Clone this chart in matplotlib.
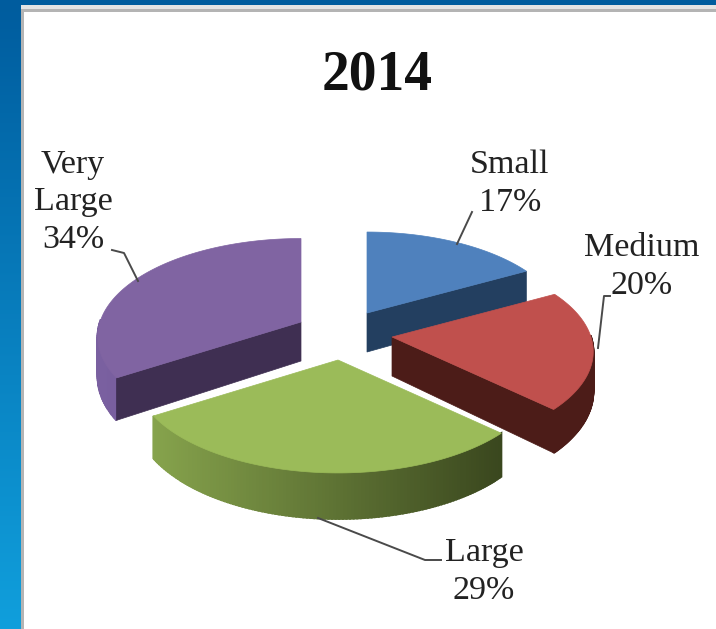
import numpy as np
import matplotlib
matplotlib.use('Agg')
import matplotlib.pyplot as plt
from matplotlib.colors import to_rgb

plt.rcParams['font.family'] = ['Liberation Serif', 'DejaVu Serif']

labels = ['Small', 'Medium', 'Large', 'Very Large']
values = [17, 20, 29, 34]

# look of the pie, all in pixels
top_colors = ['#4F81BD', '#C0504D', '#9BBB59', '#8064A2']
cut_colors = ['#233F60', '#4C1C18', '#3E4D22', '#3F2F52']
rim_left = ['#233F60', '#4C1C18', '#86A34C', '#7A60A0']
rim_right = ['#233F60', '#4C1C18', '#3A471E', '#6E5696']
apex = [(367, 313), (392, 337), (338, 360), (301, 322)]
sizes = [0.97, 0.99, 1.0, 1.0]
rx, ry, persp, depth = 201, 96, 0.15, 39
draw_order = [0, 3, 1, 2]

label_pos = [(510, 184), (642, 267), (484, 572), (73, 202)]
label_text = ['Small\n17%', 'Medium\n20%', 'Large\n29%', 'Very\nLarge\n34%']
leaders = [[(457, 244), (472, 212)],
           [(598, 348), (604, 296), (610, 296)],
           [(318, 518), (425, 560), (441, 560)],
           [(138, 281), (124, 253), (112, 250)]]


def project(center, theta, scale=1.0, drop=0.0):
    # theta clockwise from north, nearer points are drawn bigger
    v = np.cos(theta)
    w = 1 + persp * v
    x = center[0] + scale * rx * np.sin(theta) / w
    y = center[1] - scale * ry * v / w + drop / w
    return x, y


fig = plt.figure(figsize=(7.16, 6.29), dpi=100)
ax = fig.add_axes([0, 0, 1, 1])
ax.axis('off')

# blue slide frame and the white picture on it
grad = np.linspace(0, 1, 256)[:, None]
c0, c1 = np.array(to_rgb('#005C9E')), np.array(to_rgb('#109FDC'))
ax.imshow((c0 + grad[..., None] * (c1 - c0)), extent=[0, 716, 629, 0],
          aspect='auto', zorder=0)
ax.set_xlim(0, 716)
ax.set_ylim(629, 0)
ax.fill_between([21, 716], 5, 629, color='white', lw=0, zorder=1)
ax.fill_between([21, 716], 5, 9, color='#E4E4E4', lw=0, zorder=1)
ax.fill_between([23, 716], 9, 11.5, color='#B4B4B4', lw=0, zorder=1)
ax.fill_between([21, 24], 9, 629, color='#B4B4B4', lw=0, zorder=1)

edges = np.radians(np.cumsum([0] + values) * 3.6)
z = 2
for i in draw_order:
    a, b = edges[i], edges[i + 1]
    c = apex[i]
    s = sizes[i]
    ang = np.linspace(a, b, 120)
    xs, ys = project(c, ang, s)
    xb, yb = project(c, ang, s, depth)

    # outer wall, only the part facing us
    cl, cr = np.array(to_rgb(rim_left[i])), np.array(to_rgb(rim_right[i]))
    for j in range(len(ang) - 1):
        if np.cos(ang[j]) > 0.02:
            continue
        t = (1 - (xs[j] - xs.min()) / (xs.max() - xs.min()))
        col = cr + (cl - cr) * t
        ax.fill([xs[j], xs[j + 1], xb[j + 1], xb[j]],
                [ys[j], ys[j + 1], yb[j + 1], yb[j]],
                color=col, lw=1.5, zorder=z)

    # cut faces
    for th, show in ((a, a > np.pi), (b, b < np.pi)):
        if show:
            xe, ye = project(c, th, s)
            xf, yf = project(c, th, s, depth)
            ax.fill([c[0], xe, xf, c[0]],
                    [c[1], ye, yf, c[1] + depth], color=cut_colors[i], lw=0.5, zorder=z + 1)

    ax.fill(np.r_[c[0], xs], np.r_[c[1], ys], color=top_colors[i], lw=0.5, zorder=z + 2)
    z += 3

for line in leaders:
    ax.plot(*zip(*line), color='#4A4A4A', lw=1.4, zorder=40)

for (x, y), txt in zip(label_pos, label_text):
    ax.text(x, y, txt, ha='center', va='center', fontsize=24.5, color='#222222',
            linespacing=1.3, zorder=41)

ax.text(377, 75, '2014', ha='center', va='center', fontsize=40,
        fontweight='bold', color='#111111', zorder=41)

fig.savefig('out.png', dpi=100)
